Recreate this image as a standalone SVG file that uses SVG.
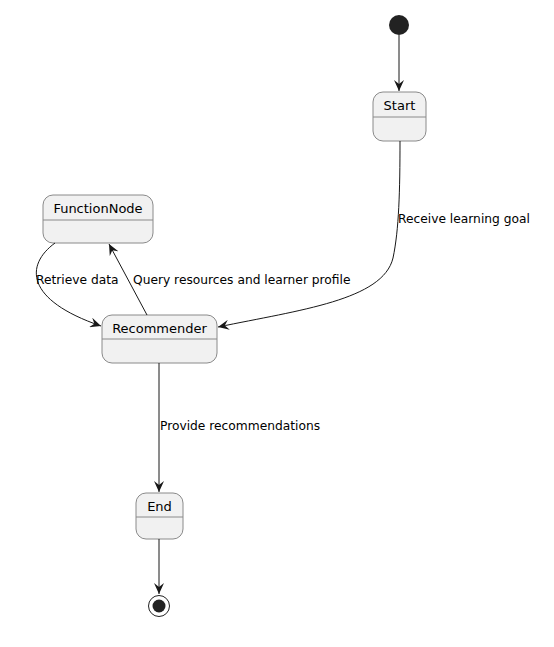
<svg xmlns="http://www.w3.org/2000/svg" width="554" height="647" viewBox="0 0 554 647">
  <defs>
    <style>
      .state rect { fill: #F1F1F1; stroke: #8a8a8a; stroke-width: 1; }
      .state line { stroke: #8a8a8a; stroke-width: 1; }
      .name { font-family: "DejaVu Sans", sans-serif; font-size: 13px; fill: #000; text-anchor: middle; }
      .lbl { font-family: "DejaVu Sans", sans-serif; font-size: 12.25px; fill: #000; }
      .edge { fill: none; stroke: #181818; stroke-width: 1; }
    </style>
    <marker id="arrow" viewBox="0 0 12 10" refX="11" refY="5" markerWidth="12" markerHeight="10" markerUnits="userSpaceOnUse" orient="auto">
      <path d="M0,0 L11,5 L0,10 L4,5 Z" fill="#181818"/>
    </marker>
  </defs>
  <rect width="554" height="647" fill="#FFFFFF"/>

  <g id="initial">
    <circle cx="399" cy="25" r="10" fill="#222222"/>
  </g>

  <g id="start" class="state">
    <rect x="373" y="92" width="53" height="49" rx="10" ry="10"/>
    <line x1="373" y1="117" x2="426" y2="117"/>
    <text class="name" x="399.5" y="110">Start</text>
  </g>

  <g id="functionnode" class="state">
    <rect x="43" y="195" width="110" height="48" rx="10" ry="10"/>
    <line x1="43" y1="220" x2="153" y2="220"/>
    <text class="name" x="98" y="213">FunctionNode</text>
  </g>

  <g id="recommender" class="state">
    <rect x="102" y="315" width="115" height="48" rx="10" ry="10"/>
    <line x1="102" y1="339" x2="217" y2="339"/>
    <text class="name" x="159.5" y="333">Recommender</text>
  </g>

  <g id="end" class="state">
    <rect x="136" y="493" width="47" height="46" rx="10" ry="10"/>
    <line x1="136" y1="517" x2="183" y2="517"/>
    <text class="name" x="159.5" y="511">End</text>
  </g>

  <g id="final">
    <circle cx="159" cy="606" r="10.5" fill="none" stroke="#222222" stroke-width="1"/>
    <circle cx="159" cy="606" r="6.5" fill="#222222"/>
  </g>

  <g id="connectors">
    <path class="edge" d="M399,35 L399,91" marker-end="url(#arrow)"/>
    <path class="edge" d="M400,141 C400,190 399,230 393,258 C383,300 300,310 218,327" marker-end="url(#arrow)"/>
    <text class="lbl" x="398" y="223">Receive learning goal</text>

    <path class="edge" d="M55,243 C25,265 25,300 101,326" marker-end="url(#arrow)"/>
    <text class="lbl" x="36" y="284">Retrieve data</text>

    <path class="edge" d="M147,315 L109,244" marker-end="url(#arrow)"/>
    <text class="lbl" x="133" y="284">Query resources and learner profile</text>

    <path class="edge" d="M159,363 L159,492" marker-end="url(#arrow)"/>
    <text class="lbl" x="160" y="430">Provide recommendations</text>

    <path class="edge" d="M159,539 L159,594" marker-end="url(#arrow)"/>
  </g>
</svg>
